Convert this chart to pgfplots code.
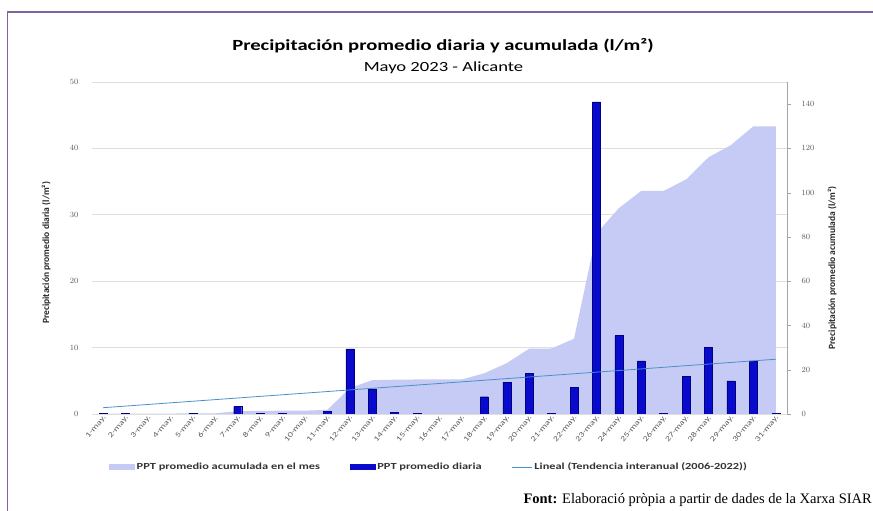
\documentclass[border=0pt]{standalone}
\usepackage{pgfplots}
\pgfplotsset{compat=1.18}
\usepackage{fontspec}
\setmainfont{Carlito}
\newfontfamily\stretchfont{Carlito}[FakeStretch=1.33]
\newfontfamily\seriffont{Liberation Serif}
\definecolor{areacol}{RGB}{197,203,245}
\definecolor{barblue}{RGB}{10,10,205}
\definecolor{bardark}{RGB}{0,0,130}
\definecolor{trendcol}{RGB}{74,144,200}
\definecolor{gridgray}{RGB}{222,222,222}
\definecolor{axisgray}{RGB}{165,165,165}
\definecolor{labelgray}{RGB}{89,89,89}
\definecolor{bordercol}{RGB}{128,100,162}
\begin{document}
\begin{tikzpicture}[x=1pt,y=1pt]
\useasboundingbox (0,0) rectangle (873,511);
\draw[bordercol, line width=1.5pt] (7.5,0) -- (7.5,499) -- (873,499);
\node[anchor=base, inner sep=0pt, font=\stretchfont\bfseries\fontsize{15.5}{18}\selectfont] at (443,460) {Precipitación promedio diaria y acumulada (l/m²)};
\node[anchor=base, inner sep=0pt, font=\stretchfont\fontsize{14}{16}\selectfont] at (443.5,439) {Mayo 2023 - Alicante};
\node[anchor=base east, inner sep=0pt, font=\seriffont\fontsize{14.5}{16}\selectfont] at (872,7) {\textbf{Font:} Elaboració pròpia a partir de dades de la Xarxa SIAR};

% axis A: grid, left ticks, x tick labels
\begin{axis}[at={(92pt,97pt)}, anchor=south west, scale only axis,
  width=695pt, height=332pt,
  xmin=0.5, xmax=31.5, ymin=0, ymax=50,
  ytick={0,10,20,30,40,50},
  ymajorgrids, grid style={draw=gridgray, line width=0.7pt},
  axis line style={draw=none},
  tick style={draw=none},
  xtick={1,...,31},
  xticklabels={1-may.,2-may.,3-may.,4-may.,5-may.,6-may.,7-may.,8-may.,9-may.,10-may.,11-may.,12-may.,13-may.,14-may.,15-may.,16-may.,17-may.,18-may.,19-may.,20-may.,21-may.,22-may.,23-may.,24-may.,25-may.,26-may.,27-may.,28-may.,29-may.,30-may.,31-may.},
  xticklabel style={rotate=50, anchor=east, inner sep=1pt, yshift=-3pt, font=\stretchfont\fontsize{7.5}{8}\selectfont, text=labelgray},
  yticklabel style={font=\stretchfont\fontsize{8.5}{9}\selectfont, text=labelgray, xshift=-10pt},
  ylabel={Precipitación promedio diaria (l/m²)},
  ylabel style={at={(axis description cs:-0.066,0.485)}, anchor=center, font=\bfseries\fontsize{9.5}{10}\selectfont, text=black!85},
]
\end{axis}

% axis B: accumulated area on right scale
\begin{axis}[at={(92pt,97pt)}, anchor=south west, scale only axis,
  width=695pt, height=332pt,
  xmin=0.5, xmax=31.5, ymin=0, ymax=150,
  axis x line=none,
  axis y line*=right,
  y axis line style={draw=axisgray, -},
  ytick={0,20,40,60,80,100,120,140},
  tick align=outside,
  ytick style={draw=axisgray},
  major tick length=4pt,
  yticklabel style={font=\stretchfont\fontsize{8.5}{9}\selectfont, text=labelgray, xshift=7pt},
  ylabel={Precipitación promedio acumulada (l/m²)},
  ylabel style={at={(axis description cs:1.065,0.44)}, anchor=center, font=\bfseries\fontsize{9.5}{10}\selectfont, text=black!85},
]
\addplot[fill=areacol, draw=none] coordinates {
(1,0.1) (2,0.2) (3,0.2) (4,0.2) (5,0.3) (6,0.3) (7,1.3) (8,1.4) (9,1.5) (10,1.5)
(11,1.9) (12,11.7) (13,15.3) (14,15.5) (15,15.6) (16,15.6) (17,15.6) (18,18.4)
(19,23.0) (20,29.5) (21,29.6) (22,34.0) (23,81.5) (24,93.0) (25,100.8) (26,100.8)
(27,106.0) (28,116.0) (29,121.5) (30,130.0) (31,130.0)} \closedcycle;
\end{axis}

% axis C: daily bars and trend line, legend
\begin{axis}[at={(92pt,97pt)}, anchor=south west, scale only axis,
  width=695pt, height=332pt,
  xmin=0.5, xmax=31.5, ymin=0, ymax=50,
  hide axis,
  legend style={at={(0.485,-0.16)}, anchor=center, draw=none, fill=none,
    font=\stretchfont\bfseries\fontsize{9.3}{10}\selectfont, text=black!80,
    /tikz/every even column/.append style={column sep=28pt}},
  legend columns=3,
  legend cell align=left,
]
\addlegendimage{legend image code/.code={\fill[areacol] (0pt,-2.5pt) rectangle (25pt,2.5pt);}}
\addlegendentry{PPT promedio acumulada en el mes}
\addplot[ybar, bar width=8pt, fill=barblue, draw=bardark, line width=0.4pt,
  legend image code/.code={\fill[barblue] (0pt,-2.5pt) rectangle (25pt,2.5pt);}] coordinates {
(1,0.15) (2,0.15) (5,0.15) (7,1.1) (8,0.15) (9,0.15) (11,0.4) (12,9.8) (13,3.8)
(14,0.2) (15,0.15) (18,2.6) (19,4.8) (20,6.1) (21,0.1) (22,4.0) (23,47.0) (24,11.8)
(25,8.0) (26,0.1) (27,5.7) (28,10.0) (29,5.0) (30,8.0) (31,0.1)};
\addlegendentry{PPT promedio diaria}
\addplot[trendcol, line width=0.8pt,
  legend image code/.code={\draw[trendcol, line width=0.8pt] (0pt,0pt) -- (20pt,0pt);}] coordinates {(1,0.95) (31,8.25)};
\addlegendentry{Lineal (Tendencia interanual (2006-2022))}
\end{axis}
\end{tikzpicture}
\end{document}
